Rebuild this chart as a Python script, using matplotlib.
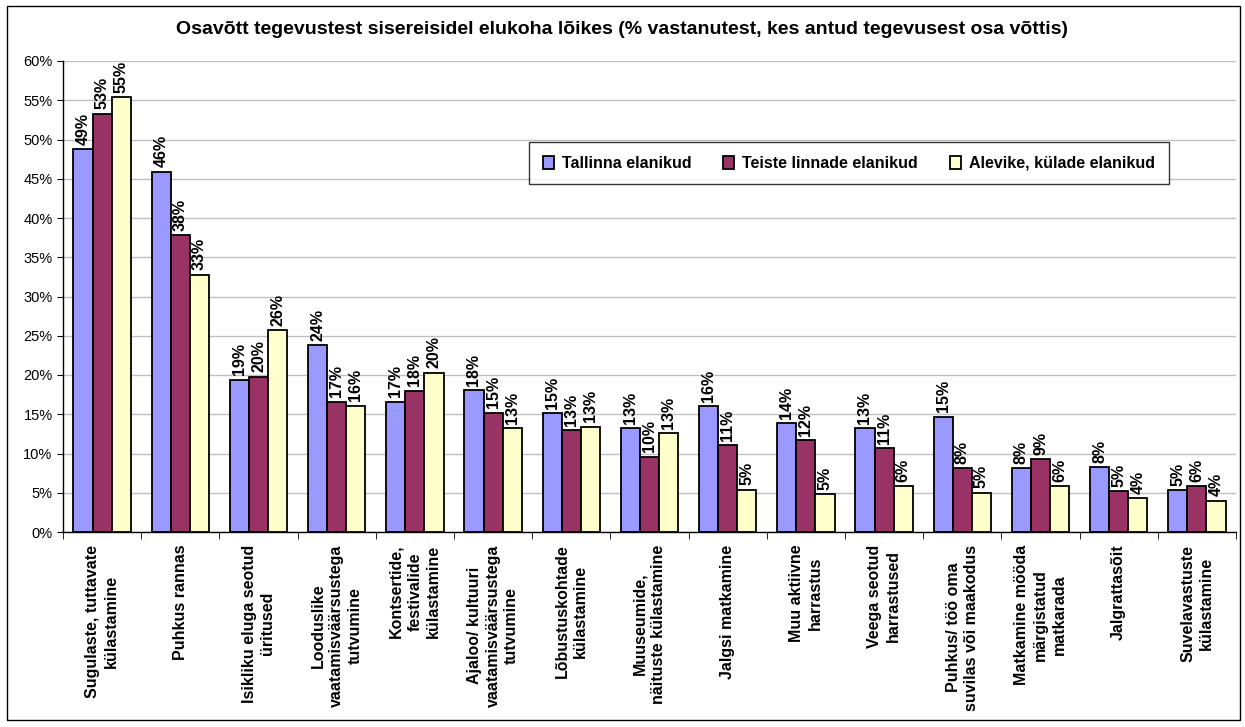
import matplotlib
matplotlib.use("Agg")
import matplotlib.pyplot as plt
import numpy as np
from matplotlib.patches import Rectangle

categories = [
    "Sugulaste, tuttavate\nkülastamine",
    "Puhkus rannas",
    "Isikliku eluga seotud\nüritused",
    "Looduslike\nvaatamisväärsustega\ntutvumine",
    "Kontsertide,\nfestivalide\nkülastamine",
    "Ajaloo/ kultuuri\nvaatamisväärsustega\ntutvumine",
    "Lõbustuskohtade\nkülastamine",
    "Muuseumide,\nnäituste külastamine",
    "Jalgsi matkamine",
    "Muu aktiivne\nharrastus",
    "Veega seotud\nharrastused",
    "Puhkus/ töö oma\nsuvilas või maakodus",
    "Matkamine mööda\nmärgistatud\nmatkarada",
    "Jalgrattasõit",
    "Suvelavastuste\nkülastamine",
]
series_names = ["Tallinna elanikud", "Teiste linnade elanikud", "Alevike, külade elanikud"]
tallinna = [48.8, 45.9, 19.4, 23.8, 16.6, 18.1, 15.1, 13.2, 16.0, 13.9, 13.2, 14.7, 8.1, 8.3, 5.3]
teiste = [53.3, 37.8, 19.8, 16.6, 18.0, 15.2, 13.0, 9.6, 11.1, 11.7, 10.7, 8.1, 9.3, 5.2, 5.8]
alevike = [55.4, 32.8, 25.7, 16.1, 20.3, 13.2, 13.4, 12.6, 5.4, 4.8, 5.8, 5.0, 5.8, 4.3, 4.0]
colors = ["#9999FF", "#993366", "#FFFFCC"]
yticks = list(range(0, 61, 5))

plt.rcParams['font.family'] = ['Liberation Sans', 'DejaVu Sans']

fig = plt.figure(figsize=(12.45, 7.27), dpi=100)
ax = fig.add_axes([63/1245, 1-532/727, 1173/1245, 471/727])

x = np.arange(len(categories))
w = 0.245
for i, (vals, name, c) in enumerate(zip([tallinna, teiste, alevike], series_names, colors)):
    pos = x + (i - 1) * w
    ax.bar(pos, vals, width=w, color=c, edgecolor="black", linewidth=1.3, label=name, zorder=3)
    for p, v in zip(pos, vals):
        ax.text(p, v + 0.55, f"{v:.0f}%", rotation=90, ha="center", va="bottom",
                fontsize=11.5, fontweight="bold", zorder=4)

ax.set_xlim(-0.5, len(categories) - 0.5)
ax.set_ylim(0, 60)
ax.set_yticks(yticks)
ax.set_yticklabels([f"{t}%" for t in yticks], fontsize=10.5)
ax.yaxis.grid(True, color="#C0C0C0", linewidth=1.0, zorder=0)
ax.set_axisbelow(True)
for s in ["top", "right"]:
    ax.spines[s].set_visible(False)
ax.spines["left"].set_linewidth(1.0)
ax.spines["bottom"].set_linewidth(1.0)
ax.spines["bottom"].set_zorder(5)
ax.tick_params(axis="y", length=4, direction="out")

ax.set_xticks(x)
ax.set_xticklabels(categories, rotation=90, fontsize=11.5, fontweight="bold",
                   ha="center", va="top", multialignment="center", linespacing=1.3)
ax.tick_params(axis="x", which="major", length=0, pad=9)
ax.set_xticks(np.arange(-0.5, len(categories), 1), minor=True)
ax.tick_params(axis="x", which="minor", length=5, direction="out")

leg = ax.legend(loc="upper left", bbox_to_anchor=(529/1245, 1-142/727), bbox_transform=fig.transFigure,
                ncol=3, frameon=True, fancybox=False, edgecolor="black", borderaxespad=0,
                prop={"weight": "bold", "size": 11.5}, handlelength=0.7, handleheight=0.9,
                handletextpad=0.5, columnspacing=2.0, borderpad=0.85)
leg.get_frame().set_linewidth(1.0)

fig.text(0.5, 1 - 30/727, "Osavõtt tegevustest sisereisidel elukoha lõikes (% vastanutest, kes antud tegevusest osa võttis)",
         ha="center", va="center", fontsize=14, fontweight="bold")

fig.patches.append(Rectangle((7/1245, 1-720/727), 1233/1245, 714/727, transform=fig.transFigure,
                             fill=False, edgecolor="black", linewidth=1.0))

fig.savefig("out.png", dpi=100)
